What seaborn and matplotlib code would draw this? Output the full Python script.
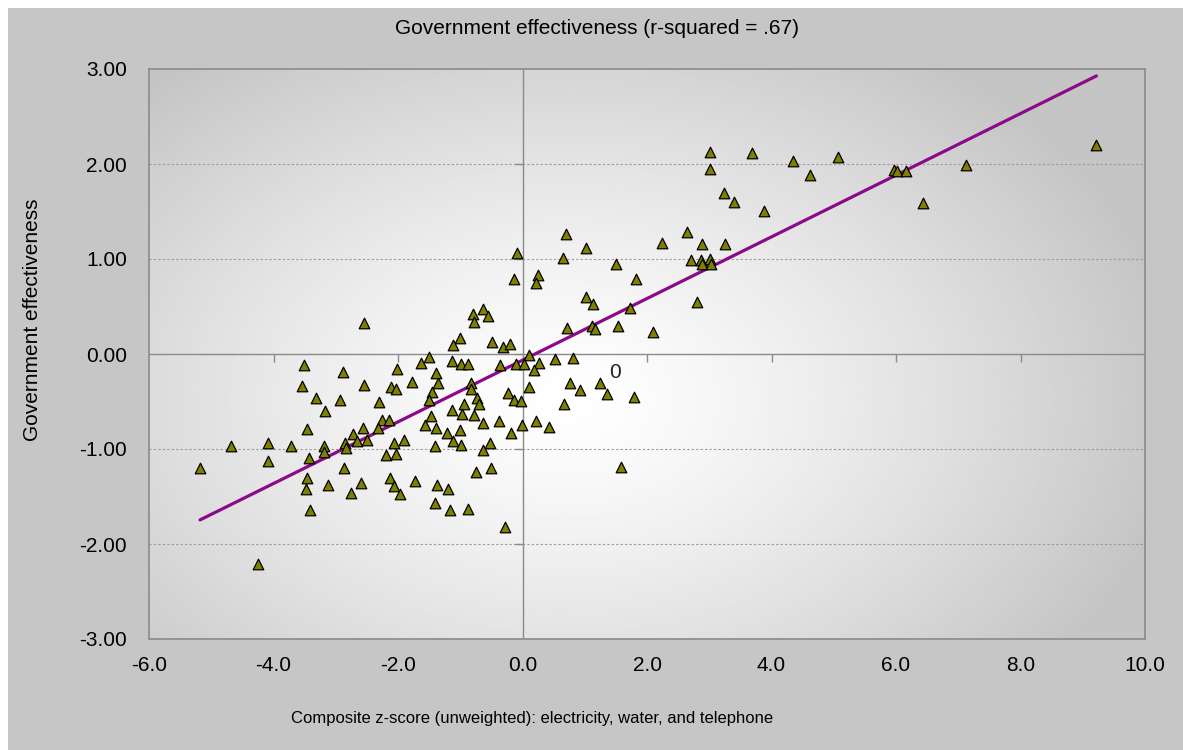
"""Government effectiveness vs. composite infrastructure z-score (Excel-style scatter)."""

import matplotlib

matplotlib.use("Agg")

import matplotlib.pyplot as plt
from matplotlib.patches import Rectangle
import numpy as np
import pandas as pd
import seaborn as sns


# composite z-score (unweighted): electricity, water, telephone
z_score = [
    -3.51, -2.88, -3.54, -2.55, -3.32, -2.93, -2.31, -3.18, -2.01, -2.12,
    -2.03, -2.26, -2.15, -3.46, -2.72, -2.56, -2.32, -4.69, -4.09, -3.72,
    -3.19, -3.19, -2.85, -2.84, -2.66, -2.50, -2.06, -2.19, -2.04, -5.18,
    -4.09, -3.43, -2.87, -3.46, -3.48, -3.13, -2.59, -2.76, -2.13, -2.07,
    -1.97, -3.41, -4.25,
    -0.79, -0.64, -0.55, -0.78, -1.00, -1.12, -0.49, -0.32, -0.20, 0.10,
    0.27, 0.53, -0.10, 0.03, 0.19, -0.36, -1.13, -0.99, -0.87, -1.51,
    -1.63, -1.39, -1.78, -1.36, -1.46, -1.50, -0.83, -0.83, -0.73, -0.70,
    -0.24, -0.13, -0.02, 0.10, -0.94, -1.13, -0.97, -0.78, -1.47, -1.56,
    -1.39, -1.21, -1.01, -1.12, -0.98, -1.40, -0.64, -0.37, -0.18, -0.01,
    0.21, 0.42, -1.91, -0.52, -0.64, -0.74, -0.51, -1.73, -1.38, -1.20,
    -1.40, -1.17, -0.87, -0.28,
    0.70, 1.02, 0.65, 1.51, 2.24, 2.65, 2.89, 2.71, 2.87, 3.02,
    2.88, 3.03, 1.83, 1.02, 1.13, 2.81, 1.73, 0.72, 1.12, 1.17,
    1.54, 2.09, 0.81, 0.76, 0.92, 1.24, 1.35, 1.79, 0.67, 1.58,
    3.02, 3.69, 4.35, 5.07, 3.02, 4.62, 3.23, 3.39, 3.88, 3.26,
    5.96, 6.01, 6.16, 6.43, 7.12, 9.22,
    -0.09, -0.14, 0.25, 0.21, -2.55,
]

gov_effectiveness = [
    -0.12, -0.19, -0.34, -0.33, -0.46, -0.48, -0.50, -0.60, -0.16, -0.35,
    -0.37, -0.69, -0.69, -0.79, -0.84, -0.78, -0.78, -0.97, -0.94, -0.97,
    -0.97, -1.03, -0.94, -0.99, -0.92, -0.90, -0.94, -1.06, -1.05, -1.20,
    -1.13, -1.09, -1.20, -1.31, -1.42, -1.38, -1.36, -1.46, -1.30, -1.39,
    -1.47, -1.64, -2.21,
    0.42, 0.47, 0.40, 0.34, 0.17, 0.09, 0.13, 0.07, 0.11, -0.01,
    -0.09, -0.05, -0.11, -0.10, -0.17, -0.12, -0.07, -0.11, -0.11, -0.03,
    -0.09, -0.20, -0.29, -0.31, -0.40, -0.48, -0.30, -0.37, -0.46, -0.53,
    -0.41, -0.48, -0.49, -0.35, -0.53, -0.59, -0.63, -0.64, -0.65, -0.75,
    -0.78, -0.83, -0.80, -0.92, -0.96, -0.97, -0.73, -0.70, -0.83, -0.75,
    -0.71, -0.77, -0.90, -0.94, -1.01, -1.24, -1.20, -1.34, -1.38, -1.42,
    -1.57, -1.64, -1.63, -1.82,
    1.26, 1.12, 1.01, 0.95, 1.17, 1.28, 1.16, 0.99, 0.99, 1.00,
    0.95, 0.95, 0.79, 0.60, 0.53, 0.55, 0.48, 0.27, 0.30, 0.26,
    0.29, 0.23, -0.04, -0.31, -0.38, -0.31, -0.42, -0.45, -0.53, -1.19,
    2.13, 2.12, 2.03, 2.07, 1.95, 1.88, 1.70, 1.60, 1.51, 1.16,
    1.94, 1.93, 1.93, 1.59, 1.99, 2.20,
    1.06, 0.79, 0.83, 0.75, 0.33,
]

x_ticks = [-6, -4, -2, 0, 2, 4, 6, 8, 10]
y_ticks = [-3, -2, -1, 0, 1, 2, 3]

TITLE = "Government effectiveness (r-squared = .67)"
X_LABEL = "Composite z-score (unweighted): electricity, water, and telephone"
Y_LABEL = "Government effectiveness"

FONT = ["Liberation Sans", "DejaVu Sans"]


def main() -> None:
    sns.set_theme(style="white")
    plt.rcParams["font.family"] = FONT

    data = pd.DataFrame({"z": z_score, "gov": gov_effectiveness})

    figure = plt.figure(figsize=(11.83, 7.5), dpi=100)
    figure.patch.set_facecolor("white")
    # Excel chart-area panel (gray, with a thin white strip top/left)
    figure.patches.append(Rectangle((8 / 1183, 0), 1, 1 - 8 / 750, transform=figure.transFigure,
                                    facecolor="#c6c6c6", edgecolor="none", zorder=-5))

    axis = figure.add_axes([149 / 1183, 1 - 639 / 750, 996 / 1183, 570 / 750])
    axis.set_zorder(2)
    axis.set_xlim(-6, 10)
    axis.set_ylim(-3, 3)

    # radial gray gradient background of the plot area
    u, v = np.meshgrid(np.linspace(0, 1, 300), np.linspace(0, 1, 300))
    radius = np.sqrt(((u - 0.42) / 0.62) ** 2 + ((v - 0.42) / 0.75) ** 2)
    shade = 1.0 - 0.23 * np.clip(radius, 0, 1) ** 1.3
    axis.imshow(shade, cmap="gray", vmin=0, vmax=1, extent=[0, 1, 0, 1], origin="lower",
                transform=axis.transAxes, aspect="auto", zorder=0, interpolation="bilinear")

    for value in [-2, -1, 1, 2]:
        axis.axhline(value, color="#9a9a9a", linewidth=0.8, linestyle=(0, (2, 2)), zorder=1)
    axis.axhline(0, color="#8a8a8a", linewidth=1.0, zorder=1)
    axis.axvline(0, color="#8a8a8a", linewidth=1.0, zorder=1)
    # tick marks where the axes cross
    axis.plot(x_ticks[1:-1], [0] * (len(x_ticks) - 2), linestyle="none", marker=3,
              markersize=6, markeredgewidth=1.0, color="#8a8a8a", zorder=1)
    axis.plot([0] * (len(y_ticks) - 2), y_ticks[1:-1], linestyle="none", marker=0,
              markersize=6, markeredgewidth=1.0, color="#8a8a8a", zorder=1)

    sns.scatterplot(data=data, x="z", y="gov", marker="^", s=58, color="#7f7f00",
                    edgecolor="black", linewidth=0.9, ax=axis, zorder=3)
    sns.regplot(data=data, x="z", y="gov", scatter=False, ci=None, truncate=True,
                line_kws={"color": "#8b0a8b", "linewidth": 2.3}, ax=axis)

    axis.text(1.49, -0.20, "0", fontsize=15, color="#222222", ha="center", va="center", zorder=4)

    axis.set_xticks(x_ticks)
    axis.set_xticklabels([f"{value:.1f}" for value in x_ticks])
    axis.set_yticks(y_ticks)
    axis.set_yticklabels([f"{value:.2f}" for value in y_ticks])
    axis.tick_params(axis="x", length=0, pad=12, labelsize=15, colors="black")
    axis.tick_params(axis="y", length=0, pad=16, labelsize=15, colors="black")
    axis.set_xlabel("")
    axis.set_ylabel("")
    axis.grid(False)
    for spine in axis.spines.values():
        spine.set_color("#8a8a8a")
        spine.set_linewidth(1.2)

    figure.text(597 / 1183, 1 - 28 / 750, TITLE, ha="center", va="center", fontsize=15,
                color="black")
    figure.text(532 / 1183, 1 - 718 / 750, X_LABEL, ha="center", va="center", fontsize=12,
                color="black")
    figure.text(33 / 1183, 1 - 320 / 750, Y_LABEL, ha="center", va="center", rotation=90,
                fontsize=15, color="black")

    figure.savefig("out.png", dpi=100)
    plt.close(figure)


if __name__ == "__main__":
    main()
